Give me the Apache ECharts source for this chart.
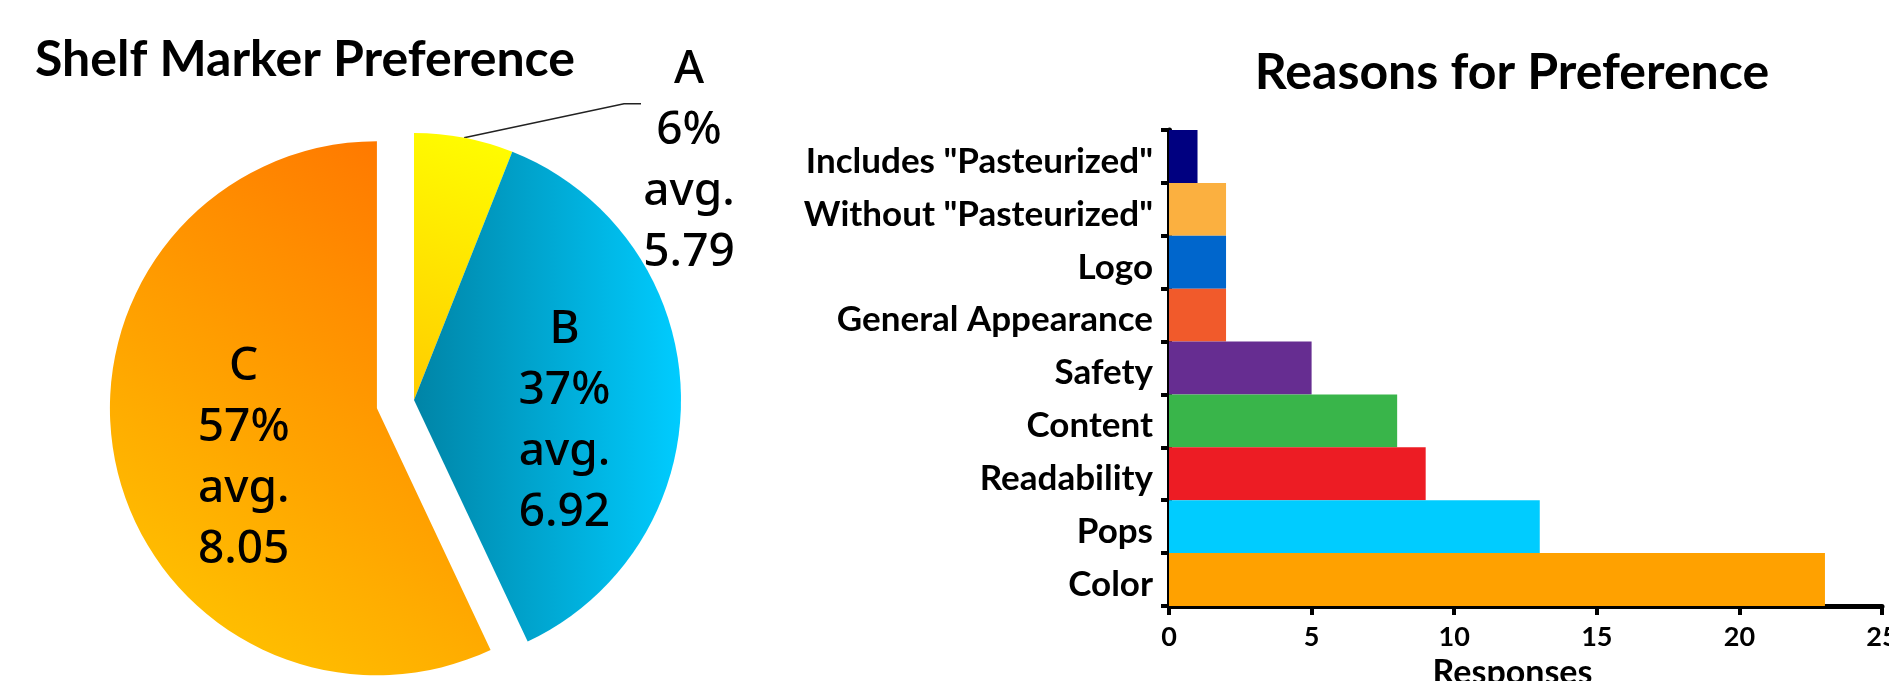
<!DOCTYPE html>
<html>
<head>
<meta charset="utf-8">
<script src="https://cdn.jsdelivr.net/npm/echarts@6/dist/echarts.min.js"></script>
<style>
  html, body { margin: 0; padding: 0; background: #ffffff; }
  #chart { width: 1889px; height: 681px; }
</style>
</head>
<body>
<div id="chart"></div>
<script>
// ---- data ----
const pieNames = ['A', 'B', 'C'];
const pieShares = [6, 37, 57];
const pieAvgs = ['5.79', '6.92', '8.05'];

const reasonCategories = [
  'Includes "Pasteurized"',
  'Without "Pasteurized"',
  'Logo',
  'General Appearance',
  'Safety',
  'Content',
  'Readability',
  'Pops',
  'Color'
];
const reasonCounts = [1, 2, 2, 2, 5, 8, 9, 13, 23];
const xTickValues = [0, 5, 10, 15, 20, 25];

// ---- styles ----
const barColors = ['#000080', '#FBB040', '#0066CC', '#F15A2B', '#662D91', '#39B54A', '#ED1C24', '#00CCFF', '#FFA100'];
const pieGradients = [
  { type: 'linear', x: 0, y: 1, x2: 1, y2: 0, colorStops: [{ offset: 0, color: '#FFCC00' }, { offset: 1, color: '#FFFF00' }] },
  { type: 'linear', x: 0, y: 0, x2: 1, y2: 0, colorStops: [{ offset: 0, color: '#0084A6' }, { offset: 1, color: '#00CCFF' }] },
  { type: 'linear', x: 1, y: 0, x2: 0, y2: 1, colorStops: [{ offset: 0, color: '#FF7000' }, { offset: 1, color: '#FFCC00' }] }
];
// label nudges (px) for inside labels
const pieLabelOffsets = [[0, 0], [14, 26], [0, 20]];

const FONT = 'Lato, "Noto Sans", sans-serif';
const PIE_FONT = '"Noto Sans", Lato, sans-serif';

const pieData = pieNames.map((n, i) => {
  const item = {
    name: n,
    value: pieShares[i],
    itemStyle: { color: pieGradients[i] }
  };
  if (i === 0) {
    item.label = { position: 'outside' };
    item.labelLine = { show: true, length: 10, length2: 10, lineStyle: { color: '#222', width: 1.5 } };
  } else {
    item.label = { offset: pieLabelOffsets[i] };
    item.select = { label: { offset: pieLabelOffsets[i] } };
  }
  if (i === 2) item.selected = true;
  return item;
});

const chart = echarts.init(document.getElementById('chart'), null, { renderer: 'canvas' });

const option = {
  animation: false,
  backgroundColor: '#ffffff',
  title: [
    {
      text: 'Shelf Marker Preference',
      left: 35, top: 35,
      padding: 0,
      textStyle: { fontFamily: FONT, fontWeight: 'bold', fontSize: 50, color: '#000' }
    },
    {
      text: 'Reasons for Preference',
      left: 1512, top: 48,
      textAlign: 'center',
      padding: 0,
      textStyle: { fontFamily: FONT, fontWeight: 'bold', fontSize: 50, color: '#000' }
    }
  ],
  grid: {
    left: 1169, right: 7, top: 130, bottom: 75,
    containLabel: false,
    outerBoundsMode: 'none'
  },
  xAxis: {
    type: 'value',
    min: xTickValues[0],
    max: xTickValues[xTickValues.length - 1],
    interval: xTickValues[1] - xTickValues[0],
    name: 'Responses',
    nameLocation: 'middle',
    nameGap: 49,
    nameTextStyle: { fontFamily: FONT, fontWeight: 'bold', fontSize: 34, color: '#000', padding: [0, 26, 0, 0] },
    axisLine: { show: true, lineStyle: { color: '#000', width: 5 } },
    axisTick: { show: true, length: 9, lineStyle: { color: '#000', width: 4 } },
    axisLabel: { fontFamily: FONT, fontWeight: 'bold', fontSize: 27, color: '#000', margin: 18 },
    splitLine: { show: false }
  },
  yAxis: {
    type: 'category',
    inverse: true,
    data: reasonCategories,
    axisLine: { show: true, lineStyle: { color: '#000', width: 5 } },
    axisTick: { show: true, length: 8, interval: 0, lineStyle: { color: '#000', width: 4 } },
    axisLabel: {
      fontFamily: FONT, fontWeight: 'bold', fontSize: 35, color: '#000',
      margin: 16, interval: 0, verticalAlign: 'top', lineHeight: 10
    },
    splitLine: { show: false }
  },
  series: [
    {
      type: 'pie',
      center: [414, 400],
      radius: 267,
      startAngle: 90,
      clockwise: true,
      avoidLabelOverlap: false,
      selectedMode: 'single',
      selectedOffset: 38,
      emphasis: { disabled: true },
      label: {
        show: true,
        position: 'inside',
        fontFamily: PIE_FONT,
        fontWeight: 500,
        fontSize: 46,
        lineHeight: 61,
        color: '#000',
        align: 'center',
        formatter: (p) => p.name + '\n' + p.value + '%\navg.\n' + pieAvgs[p.dataIndex]
      },
      labelLayout: function (p) {
        if (p.dataIndex === 0 && p.labelLinePoints) {
          const s = p.labelLinePoints[0];
          const elbow = [s[0] + 160, s[1] - 34];
          const end = [elbow[0] + 17, elbow[1]];
          return {
            x: end[0] + 48,
            y: elbow[1] + 58,
            align: 'center',
            verticalAlign: 'middle',
            labelLinePoints: [s, elbow, end]
          };
        }
        return {};
      },
      data: pieData
    },
    {
      type: 'bar',
      barCategoryGap: '0%',
      data: reasonCounts,
      itemStyle: { color: (p) => barColors[p.dataIndex] },
      emphasis: { disabled: true }
    }
  ]
};

chart.setOption(option);
</script>
</body>
</html>
